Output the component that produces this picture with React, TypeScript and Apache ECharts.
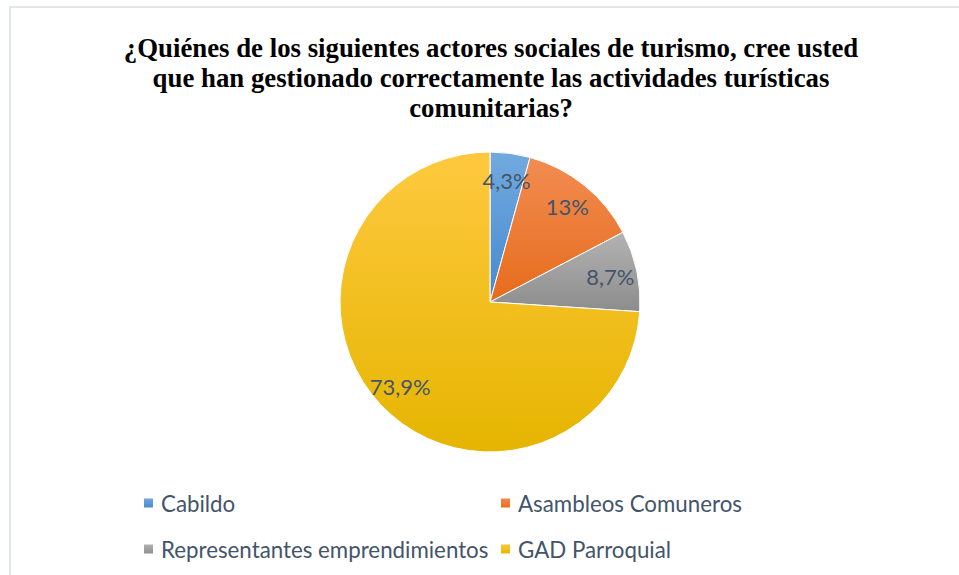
import React, { useEffect, useRef } from "react";
import * as echarts from "echarts";

const titleLines = [
  "¿Quiénes de los siguientes actores sociales de turismo, cree usted",
  "que han gestionado correctamente las actividades turísticas",
  "comunitarias?",
];
const categories = ["Cabildo", "Asambleos Comuneros", "Representantes emprendimientos", "GAD Parroquial"];
const values = [4.3, 13, 8.7, 73.9];
const labels = ["4,3%", "13%", "8,7%", "73,9%"];
const topColors = ["#72AADF", "#F28C52", "#B3B3B3", "#FFC93F"];
const bottomColors = ["#4689CF", "#E66C1C", "#8C8C8C", "#E5B500"];

export default function App() {
  const ref = useRef<HTMLDivElement>(null);
  useEffect(() => {
    if (!ref.current) return;
    const chart = echarts.init(ref.current, undefined, { renderer: "svg" });
    const data = categories.map((name, i) => ({
      name,
      value: values[i],
      itemStyle: {
        color: new echarts.graphic.LinearGradient(0, 0, 0, 1, [
          { offset: 0, color: topColors[i] },
          { offset: 1, color: bottomColors[i] },
        ]),
      },
    }));
    const labelData = categories.map((name, i) => ({
      name,
      value: values[i],
      label: { formatter: labels[i] },
    }));
    const legendText = { fontFamily: "Lato", fontSize: 22.3, color: "#44546A", padding: [0, 0, 0, 2] };
    chart.setOption({
      animation: false,
      backgroundColor: "#ffffff",
      title: {
        text: titleLines.join("\n"),
        left: 486,
        top: 28,
        textAlign: "center",
        textStyle: {
          fontFamily: "Liberation Serif",
          fontWeight: "bold",
          fontSize: 26.8,
          lineHeight: 30,
          color: "#000000",
        },
      },
      graphic: [
        {
          type: "rect",
          shape: { x: 10, y: 7, width: 960, height: 580 },
          style: { fill: "none", stroke: "#D9DEE8", lineWidth: 1.5 },
          z: -1,
        },
      ],
      legend: [
        {
          orient: "vertical",
          left: 137,
          top: 487,
          itemGap: 24,
          itemWidth: 11,
          itemHeight: 11,
          icon: "rect",
          data: [categories[0], categories[2]],
          textStyle: legendText,
        },
        {
          orient: "vertical",
          left: 494,
          top: 487,
          itemGap: 24,
          itemWidth: 11,
          itemHeight: 11,
          icon: "rect",
          data: [categories[1], categories[3]],
          textStyle: legendText,
        },
      ],
      series: [
        {
          type: "pie",
          center: [490, 302],
          radius: [0, 150],
          startAngle: 90,
          clockwise: true,
          label: { show: false },
          labelLine: { show: false },
          itemStyle: { borderColor: "#ffffff", borderWidth: 1 },
          emphasis: { disabled: true },
          data,
        },
        {
          type: "pie",
          center: [490, 302],
          radius: [90, 150],
          startAngle: 90,
          clockwise: true,
          silent: true,
          legendHoverLink: false,
          itemStyle: { color: "rgba(0,0,0,0)" },
          label: {
            show: true,
            position: "inside",
            fontFamily: "Lato",
            fontSize: 22,
            color: "#44546A",
          },
          labelLine: { show: false },
          emphasis: { disabled: true },
          data: labelData,
        },
      ],
    });
    return () => chart.dispose();
  }, []);
  return (
    <div
      ref={ref}
      style={{ position: "absolute", left: 0, top: 0, width: 959, height: 575 }}
    />
  );
}
